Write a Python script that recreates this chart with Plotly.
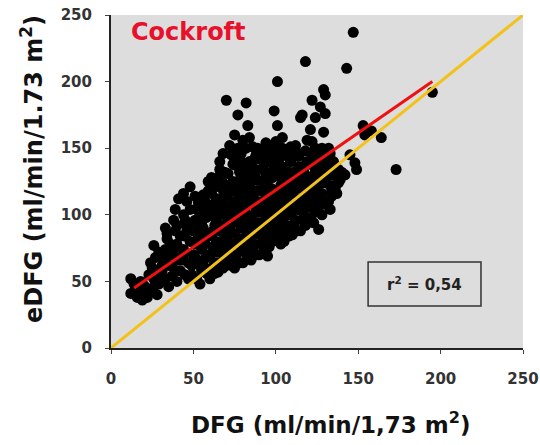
import plotly.graph_objects as go

dfg_a = [
    12, 12, 15, 17, 19, 22, 14, 20,
    24, 26, 25, 27, 26, 23, 28, 29,
    31, 32, 33, 34, 30, 35, 33, 35,
    37, 38, 39, 40, 41, 38, 40, 37,
    42, 43, 44, 45, 46, 44, 47, 46,
    48, 49, 50, 51, 50, 51, 52, 49, 53,
    54, 55, 56, 55, 57, 56, 58, 57, 56, 59,
    60, 61, 60, 62, 61, 63, 60, 62, 61, 63,
    65, 66, 65, 67, 66, 64, 68, 66, 67, 66, 66, 65,
    70, 72, 71, 70, 72, 71, 73, 70, 72, 71, 74, 72, 70,
    75, 76, 77, 75, 78, 76, 77, 75, 78, 76, 75, 77, 76,
    80, 81, 79, 82, 80, 81, 83, 80, 82, 81, 80, 83, 82, 79,
    85, 86, 84, 87, 85, 88, 86, 84, 87, 85, 86, 88,
    90, 91, 89, 92, 90, 93, 91, 89, 92, 90, 93,
    95, 96, 94, 97, 95, 98, 96, 94, 97, 95, 98, 95,
    100, 101, 99, 102, 100, 103, 101, 99, 102, 100, 101, 99, 101, 104,
    105, 106, 104, 107, 105, 108, 106, 104, 107, 109,
    110, 111, 109, 112, 110, 113, 111, 109, 112,
    115, 116, 114, 117, 115, 118, 116, 114, 119, 115, 116, 118,
    121, 120, 122, 120, 123, 121, 122, 121, 122, 124,
    126, 125, 127, 125, 128, 126, 127, 127, 124,
    132, 134, 130, 131, 129, 130, 129, 129, 130, 132,
    139, 136, 138, 135, 137,
    143, 147, 148, 149, 153, 154, 145, 142,
    164, 173, 195, 158,
]
edfg_a = [
    52, 41, 44, 42, 36, 38, 48, 47,
    44, 52, 60, 68, 77, 55, 40, 48,
    58, 66, 74, 82, 50, 46, 90, 62,
    54, 70, 88, 78, 112, 96, 50, 62,
    58, 66, 74, 84, 92, 100, 52, 110,
    121, 62, 70, 78, 88, 96, 104, 55, 109,
    48, 58, 66, 74, 82, 90, 98, 106, 115, 125,
    52, 60, 68, 76, 84, 92, 100, 108, 116, 122,
    57, 64, 72, 80, 88, 96, 104, 112, 120, 134, 140, 128,
    62, 66, 74, 82, 90, 98, 106, 114, 122, 131, 125, 152, 186,
    60, 70, 78, 86, 94, 102, 110, 118, 126, 137, 160, 175, 144,
    64, 72, 80, 88, 96, 104, 112, 120, 128, 136, 156, 167, 184, 146,
    66, 74, 82, 90, 98, 106, 114, 122, 130, 138, 151, 145,
    70, 78, 86, 94, 102, 110, 118, 126, 134, 142, 150,
    69, 76, 84, 92, 100, 108, 116, 124, 132, 140, 148, 146,
    83, 90, 98, 106, 114, 122, 130, 138, 146, 155, 167, 178, 200, 158,
    80, 88, 96, 104, 112, 120, 128, 136, 144, 151,
    85, 92, 100, 108, 116, 124, 132, 140, 148,
    88, 96, 104, 112, 120, 128, 136, 144, 156, 173, 175, 215,
    98, 106, 114, 122, 130, 138, 146, 164, 186, 173,
    89, 104, 112, 120, 128, 136, 144, 181, 150,
    110, 118, 126, 134, 142, 176, 162, 194, 190, 150,
    126, 120, 134, 140, 128,
    210, 237, 139, 134, 167, 160, 145, 130,
    158, 134, 192, 163,
]

# Further points of the dense core
dfg_b = [
    18, 21, 16,
    26, 28, 24, 29,
    33, 35, 31, 36, 34,
    39, 41, 38, 42, 40, 39,
    45, 47, 44, 48, 46, 45, 48, 44,
    52, 54, 51, 53, 50, 54, 51,
    58, 56, 59, 57, 59, 55, 58, 57, 59,
    63, 64, 62, 64, 62, 64, 63, 64, 62, 61,
    68, 69, 68, 69, 68, 69, 68, 69, 68, 69, 68,
    73, 74, 74, 73, 74, 73, 74, 73, 74, 73,
    78, 79, 78, 79, 78, 79, 78, 79, 78, 79, 77,
    83, 84, 83, 84, 83, 84, 83, 84, 83, 84, 82, 84,
    88, 87, 88, 89, 88, 89, 88, 89, 88, 87, 89,
    93, 92, 93, 94, 93, 94, 93, 94, 93, 92, 94,
    98, 97, 98, 99, 98, 97, 98, 99, 97, 98,
    103, 104, 103, 104, 103, 102, 104, 103, 102, 104,
    108, 107, 108, 109, 108, 107, 108, 109, 107,
    113, 112, 113, 114, 113, 112, 114, 113, 112,
    118, 117, 118, 119, 118, 117, 119, 118,
    123, 124, 123, 124, 123, 124, 123, 122,
    128, 129, 128, 129, 128, 129, 128,
    133, 134, 133, 134, 133, 133,
    137, 138, 140,
]
edfg_b = [
    50, 43, 38,
    46, 56, 64, 72,
    52, 70, 62, 78, 86,
    58, 66, 74, 84, 92, 104,
    55, 64, 70, 80, 88, 96, 104, 116,
    52, 62, 68, 84, 92, 100, 114,
    56, 62, 70, 78, 86, 94, 102, 110, 118,
    56, 64, 72, 80, 88, 98, 104, 112, 120, 128,
    60, 68, 76, 84, 92, 100, 108, 116, 124, 132, 146,
    62, 70, 78, 86, 94, 102, 110, 118, 138, 145,
    64, 74, 82, 90, 98, 106, 114, 122, 132, 140, 150,
    68, 76, 84, 92, 100, 108, 116, 124, 132, 140, 150, 158,
    70, 78, 86, 94, 102, 110, 118, 126, 134, 142, 150,
    74, 82, 90, 98, 106, 114, 122, 130, 138, 146, 154,
    80, 88, 96, 104, 112, 120, 128, 136, 144, 152,
    78, 86, 94, 102, 110, 118, 126, 134, 142, 150,
    84, 92, 100, 108, 116, 124, 132, 140, 148,
    88, 96, 104, 112, 120, 128, 136, 144, 152,
    92, 100, 108, 116, 124, 132, 140, 148,
    94, 102, 110, 118, 126, 134, 142, 155,
    100, 108, 116, 124, 132, 140, 150,
    104, 114, 122, 130, 138, 146,
    116, 124, 132,
]

# Regression line (Cockroft) and identity line endpoints
reg_x = [14, 195]
reg_y = [45, 200]
id_x = [0, 250]
id_y = [0, 250]

tick_vals = [0, 50, 100, 150, 200, 250]
tick_text = ["0", "50", "100", "150", "200", "250"]

FONT = "DejaVu Sans, Verdana, sans-serif"

fig = go.Figure()
fig.add_trace(go.Scatter(
    x=dfg_a + dfg_b, y=edfg_a + edfg_b, mode="markers",
    marker=dict(color="black", size=11, line=dict(width=0)),
    showlegend=False, hoverinfo="skip",
))
fig.add_trace(go.Scatter(
    x=id_x, y=id_y, mode="lines",
    line=dict(color="#f2c21b", width=3), showlegend=False,
))
fig.add_trace(go.Scatter(
    x=reg_x, y=reg_y, mode="lines",
    line=dict(color="#ee1111", width=3), showlegend=False,
))

fig.add_shape(type="rect", x0=156, x1=224.5, y0=31.5, y1=64.6,
              line=dict(color="#333333", width=1.5), fillcolor="rgba(0,0,0,0)")

fig.add_annotation(x=190, y=48, xref="x", yref="y",
                   text="<b>r<sup>2</sup> = 0,54</b>", showarrow=False,
                   font=dict(family=FONT, size=15, color="#222222"))
fig.add_annotation(x=47, y=237, xref="x", yref="y",
                   text="<b>Cockroft</b>", showarrow=False,
                   font=dict(family=FONT, size=24, color="#e8102a"))

# Axis titles (paper coords relative to the plot area: 412 x 333 px)
fig.add_annotation(x=(32 - 111) / 412, y=(348 - 169) / 333, xref="paper", yref="paper",
                   xanchor="center", yanchor="middle",
                   text="<b>eDFG (ml/min/1.73 m<sup>2</sup>)</b>", textangle=-90,
                   showarrow=False, font=dict(family=FONT, size=24, color="#111111"))
fig.add_annotation(x=(331 - 111) / 412, y=(348 - 423) / 333, xref="paper", yref="paper",
                   xanchor="center", yanchor="middle",
                   text="<b>DFG (ml/min/1,73 m<sup>2</sup>)</b>",
                   showarrow=False, font=dict(family=FONT, size=23, color="#111111"))

fig.update_layout(
    width=540, height=445,
    margin=dict(l=111, r=17, t=15, b=97, autoexpand=False),
    paper_bgcolor="white", plot_bgcolor="#dddddd",
    showlegend=False,
)
fig.update_xaxes(
    range=[0, 250], tickvals=tick_vals, ticktext=tick_text,
    showgrid=False, zeroline=False, showline=True, linecolor="#222222", linewidth=2,
    ticks="outside", ticklen=4, tickcolor="#444444",
    tickfont=dict(family=FONT, size=15, color="#333333", weight="bold"),
    ticklabelstandoff=12,
)
fig.update_yaxes(
    range=[0, 250], tickvals=tick_vals, ticktext=tick_text,
    showgrid=False, zeroline=False, showline=True, linecolor="#222222", linewidth=2,
    ticks="outside", ticklen=4, tickcolor="#444444",
    tickfont=dict(family=FONT, size=15, color="#333333", weight="bold"),
    ticklabelstandoff=10,
)

fig.write_html("out.html")
